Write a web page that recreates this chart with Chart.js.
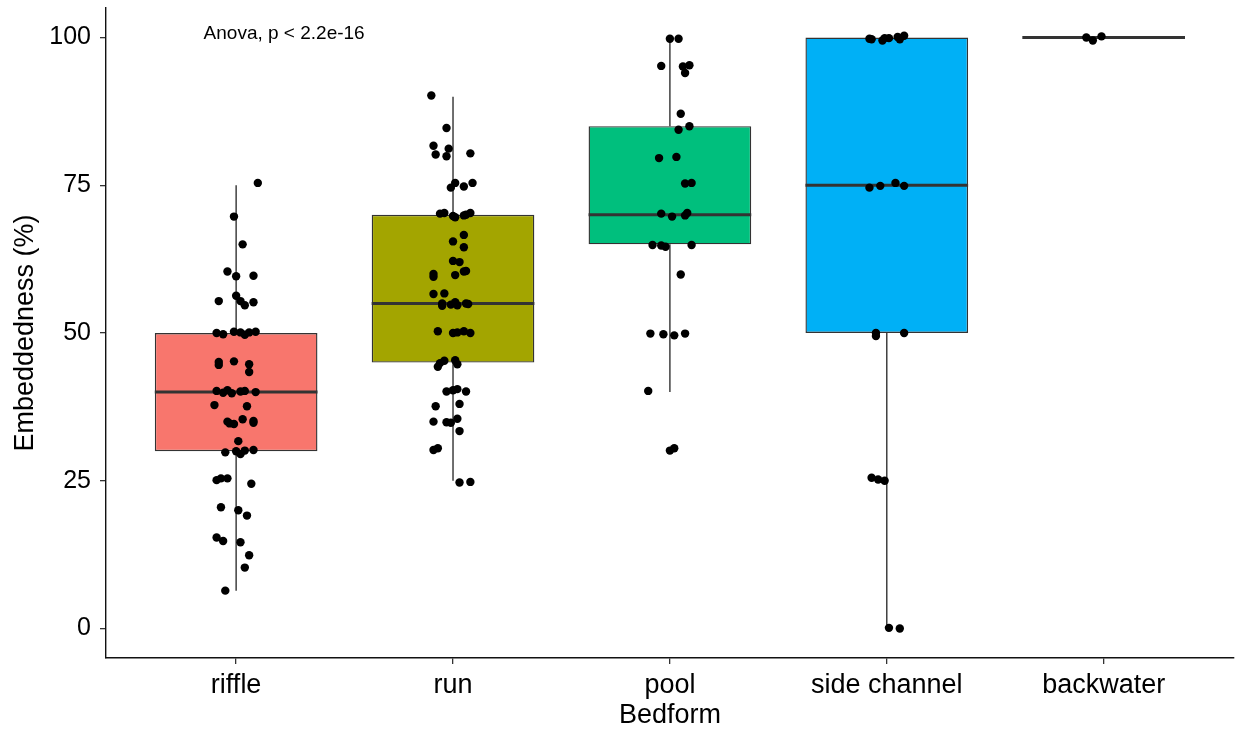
<!DOCTYPE html>
<html>
<head>
<meta charset="utf-8">
<script src="https://cdn.jsdelivr.net/npm/chart.js@4/dist/chart.umd.min.js"></script>
<style>
  html, body { margin: 0; padding: 0; background: #ffffff; }
  #wrap { width: 1238px; height: 732px; }
</style>
</head>
<body>
<div id="wrap"><canvas id="chart" width="1238" height="732"></canvas></div>
<script>
// Bedform categories and box fill colours
const categories = ['riffle', 'run', 'pool', 'side channel', 'backwater'];
const boxColors = ['#F8766D', '#A3A500', '#00BF7D', '#00B0F6', '#E76BF3'];

// Box-plot summary per bedform (embeddedness, %)
const lowerWhisker = [6.4, 25, 40, 0, 100];
const q1 = [30, 45, 65, 50, 100];
const median = [40, 55, 70, 75, 100];
const q3 = [50, 70, 85, 100, 100];
const upperWhisker = [75, 90, 100, 100, 100];

const yTicks = [0, 25, 50, 75, 100];
const testLabel = 'Anova, p < 2.2e-16';

// Observed embeddedness (%) per site and the horizontal jitter applied to each point
const riffleValues = [75.4, 69.7, 65.0, 60.4, 59.6, 59.7, 55.4, 56.3, 55.4, 54.7, 55.2,
  50.0, 49.8, 50.2, 50.1, 49.7, 50.1, 50.2, 45.1, 44.6, 45.2, 44.7, 43.4,
  40.2, 39.9, 40.3, 39.8, 40.1, 40.2, 40.0, 37.8, 37.6, 35.0, 34.7, 34.6, 35.4, 35.1, 34.8,
  31.7, 29.8, 30.0, 29.5, 30.1, 30.2, 25.1, 25.4, 25.4, 24.5, 20.5, 20.0, 19.1,
  15.4, 14.8, 14.6, 12.4, 10.3, 6.4];
const riffleJitter = [0.10, -0.01, 0.03, -0.04, 0.00, 0.08, -0.08, 0.00, 0.02, 0.04, 0.08,
  -0.09, -0.06, -0.01, 0.02, 0.04, 0.06, 0.09, -0.08, -0.08, -0.01, 0.06, 0.06,
  -0.09, -0.06, -0.04, -0.02, 0.02, 0.04, 0.09, -0.10, 0.05, -0.04, -0.03, -0.01, 0.03, 0.08, 0.08,
  0.01, -0.05, 0.00, 0.02, 0.04, 0.08, -0.09, -0.07, -0.04, 0.07, -0.07, 0.01, 0.05,
  -0.09, -0.06, 0.02, 0.06, 0.04, -0.05];

const runValues = [90.2, 84.7, 81.7, 81.2, 80.2, 79.9, 80.4, 75.4, 74.6, 74.8, 75.4,
  70.2, 70.3, 69.8, 69.6, 69.9, 70.0, 70.3, 66.6, 65.5, 64.5, 62.2, 62.0, 60.5, 60.4,
  60.0, 59.5, 59.8, 56.6, 56.7, 55.0, 54.6, 54.8, 55.2, 54.7, 55.0, 54.9,
  50.3, 50.0, 50.1, 50.3, 50.0, 44.3, 44.9, 45.3, 45.4, 44.7, 40.1, 40.3, 40.5, 40.1,
  37.6, 38.0, 35.0, 34.9, 34.8, 35.5, 33.4, 30.2, 30.5, 24.7, 24.8];
const runJitter = [-0.10, -0.03, -0.09, -0.02, -0.08, -0.03, 0.08, 0.01, -0.01, 0.05, 0.09,
  -0.06, -0.04, 0.00, 0.01, 0.05, 0.06, 0.08, 0.05, 0.00, 0.05, 0.00, 0.03, 0.06, 0.05,
  -0.09, -0.09, 0.01, -0.09, -0.04, -0.05, -0.05, -0.01, 0.01, 0.02, 0.06, 0.07,
  -0.07, 0.00, 0.02, 0.05, 0.08, -0.07, -0.06, -0.04, 0.01, 0.02, -0.03, 0.00, 0.02, 0.06,
  -0.08, 0.03, -0.09, -0.03, -0.01, 0.02, 0.03, -0.09, -0.07, 0.03, 0.08];

const poolValues = [99.8, 99.8, 95.2, 95.1, 95.3, 94.0, 87.1, 84.4, 85.0, 79.6, 79.8,
  75.3, 75.4, 70.2, 69.7, 69.9, 70.3, 64.9, 64.8, 64.6, 64.9, 59.9,
  49.9, 49.8, 49.6, 49.9, 40.2, 30.1, 30.5];
const poolJitter = [0.00, 0.04, -0.04, 0.06, 0.09, 0.07, 0.05, 0.04, 0.09, -0.05, 0.03,
  0.07, 0.10, -0.04, 0.01, 0.07, 0.08, -0.08, -0.04, -0.02, 0.10, 0.05,
  -0.09, -0.03, 0.02, 0.07, -0.10, 0.00, 0.02];

const sideChannelValues = [99.8, 99.7, 99.5, 99.9, 99.9, 100.1, 99.7, 100.3,
  74.6, 74.9, 75.4, 74.9, 50.0, 49.5, 50.0, 25.5, 25.2, 25.0, 0.1, 0.0];
const sideChannelJitter = [-0.08, -0.07, -0.02, -0.01, 0.01, 0.05, 0.06, 0.08,
  -0.08, -0.03, 0.04, 0.08, -0.05, -0.05, 0.08, -0.07, -0.04, -0.01, 0.01, 0.06];

const backwaterValues = [100.0, 99.5, 100.2];
const backwaterJitter = [-0.08, -0.05, -0.01];

const siteValues = [riffleValues, runValues, poolValues, sideChannelValues, backwaterValues];
const siteJitter = [riffleJitter, runJitter, poolJitter, sideChannelJitter, backwaterJitter];

// Category k sits at x = k + 1 on a linear axis
const boxData = categories.map((c, i) => ({ x: i + 1, y: [q1[i], q3[i]] }));
const pointData = [];
siteValues.forEach((vals, i) => {
  vals.forEach((v, j) => pointData.push({ x: i + 1 + siteJitter[i][j], y: v }));
});

const INK = '#333333';
const FONT = "'Liberation Sans', Arial, Helvetica, sans-serif";

// Whiskers and median bars, drawn right after the boxes so the points stay on top
const boxDecorations = {
  id: 'boxDecorations',
  afterDatasetDraw(chart, args) {
    if (args.index !== 0) return;
    const { ctx, scales: { x, y } } = chart;
    const half = chart.getDatasetMeta(0).data[0].width / 2;
    ctx.save();
    ctx.strokeStyle = INK;
    ctx.lineCap = 'butt';
    categories.forEach((c, i) => {
      const px = x.getPixelForValue(i + 1);
      ctx.lineWidth = 1.4;
      ctx.beginPath();
      ctx.moveTo(px, y.getPixelForValue(lowerWhisker[i]));
      ctx.lineTo(px, y.getPixelForValue(q1[i]));
      ctx.moveTo(px, y.getPixelForValue(q3[i]));
      ctx.lineTo(px, y.getPixelForValue(upperWhisker[i]));
      ctx.stroke();
      ctx.lineWidth = 3;
      ctx.beginPath();
      const my = y.getPixelForValue(median[i]);
      ctx.moveTo(px - half, my);
      ctx.lineTo(px + half, my);
      ctx.stroke();
    });
    ctx.restore();
  }
};

// Test result written inside the panel, anchored in data units
const testAnnotation = {
  id: 'testAnnotation',
  afterDraw(chart, args, opts) {
    const { ctx, scales: { x, y } } = chart;
    ctx.save();
    ctx.fillStyle = '#000';
    ctx.font = `${opts.size}px ${FONT}`;
    ctx.textAlign = 'left';
    ctx.textBaseline = 'middle';
    ctx.fillText(testLabel, x.getPixelForValue(opts.x), y.getPixelForValue(opts.y));
    ctx.restore();
  }
};

Chart.defaults.font.family = FONT;
Chart.defaults.color = '#000';

new Chart(document.getElementById('chart'), {
  type: 'bar',
  data: {
    datasets: [
      {
        type: 'bar',
        data: boxData,
        backgroundColor: boxColors,
        borderColor: INK,
        borderWidth: 1.4,
        borderSkipped: false,
        barPercentage: 0.75,
        categoryPercentage: 1,
        grouped: false,
        order: 2
      },
      {
        type: 'scatter',
        data: pointData,
        pointRadius: 4.2,
        pointBackgroundColor: '#000',
        pointBorderWidth: 0,
        showLine: false,
        order: 1
      }
    ]
  },
  options: {
    responsive: false,
    devicePixelRatio: 1,
    animation: false,
    layout: { padding: { top: 8, right: 3, left: 0, bottom: 0 } },
    plugins: {
      legend: { display: false },
      tooltip: { enabled: false },
      testAnnotation: { x: 0.85, y: 100.6, size: 19 }
    },
    scales: {
      x: {
        type: 'linear',
        min: 0.4,
        max: 5.6,
        offset: false,
        afterFit(scale) { scale.height = 74; scale.paddingLeft = 0; scale.paddingRight = 0; },
        afterBuildTicks(scale) { scale.ticks = categories.map((c, i) => ({ value: i + 1 })); },
        ticks: {
          autoSkip: false,
          maxRotation: 0,
          padding: 5,
          font: { size: 27 },
          color: '#000',
          callback: (v) => categories[Math.round(v) - 1]
        },
        grid: { offset: false, drawOnChartArea: false, drawTicks: true, tickLength: 6, color: INK, lineWidth: 1.3 },
        border: { display: true, color: '#111', width: 1.4 },
        title: { display: true, text: 'Bedform', font: { size: 27 }, color: '#000', padding: { top: 0, bottom: 0 } }
      },
      y: {
        type: 'linear',
        min: -5,
        max: 105,
        afterFit(scale) { scale.width = 106; scale.paddingTop = 0; scale.paddingBottom = 0; },
        afterBuildTicks(scale) { scale.ticks = yTicks.map(v => ({ value: v })); },
        ticks: { padding: 9, font: { size: 25 }, color: '#000' },
        grid: { drawOnChartArea: false, drawTicks: true, tickLength: 6, color: INK, lineWidth: 1.3 },
        border: { display: true, color: '#111', width: 1.4 },
        title: { display: true, text: 'Embeddedness (%)', font: { size: 27 }, color: '#000', padding: { top: 9, bottom: 0 } }
      }
    }
  },
  plugins: [boxDecorations, testAnnotation]
});
</script>
</body>
</html>
